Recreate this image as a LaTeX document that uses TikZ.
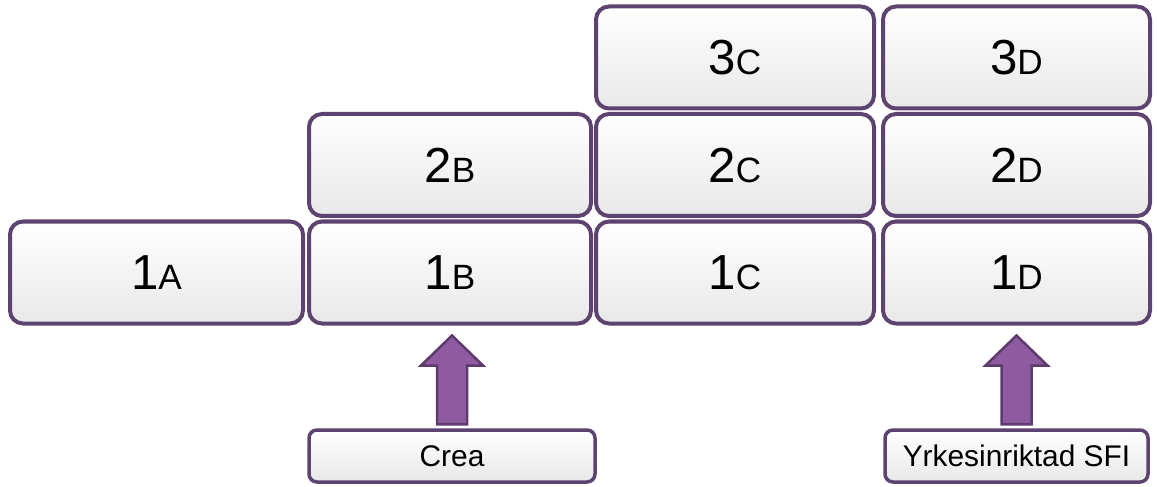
\documentclass[tikz,border=0pt]{standalone}
\usepackage{fontspec}
\setmainfont{Liberation Sans}
\usetikzlibrary{calc}

\definecolor{boxline}{RGB}{93,67,112}
\definecolor{arrowfill}{RGB}{142,91,160}
\definecolor{arrowline}{RGB}{94,58,110}

\begin{document}
\begin{tikzpicture}[
    level/.style={rectangle, draw=boxline, line width=0.08cm, rounded corners=0.26cm,
                  top color=white, middle color=white, bottom color=black!9,
                  minimum height=2.04cm, inner sep=0pt,
                  font=\fontsize{28}{33}\selectfont},
    colA/.style={level, minimum width=5.86cm},
    colB/.style={level, minimum width=5.64cm},
    colC/.style={level, minimum width=5.56cm},
    colD/.style={level, minimum width=5.34cm},
    course/.style={rectangle, draw=boxline, line width=0.07cm, rounded corners=0.16cm,
                   top color=white, middle color=white, bottom color=black!9,
                   minimum height=1.04cm, inner sep=0pt,
                   font=\fontsize{17}{20}\selectfont},
    uparrow/.style={fill=arrowfill, draw=arrowline, line width=0.05cm, line join=miter}
]
\useasboundingbox (0,0) rectangle (23.14,9.72);

\node (oneA) [colA] at (3.13, 4.27) {1{\fontsize{20}{24}\selectfont A}};
\node (oneB) [colB] at (9.00, 4.27) {1{\fontsize{20}{24}\selectfont B}};
\node (oneC) [colC] at (14.70, 4.27) {1{\fontsize{20}{24}\selectfont C}};
\node (oneD) [colD] at (20.33, 4.27) {1{\fontsize{20}{24}\selectfont D}};

\node (twoB) [colB] at (9.00, 6.42) {2{\fontsize{20}{24}\selectfont B}};
\node (twoC) [colC] at (14.70, 6.42) {2{\fontsize{20}{24}\selectfont C}};
\node (twoD) [colD] at (20.33, 6.42) {2{\fontsize{20}{24}\selectfont D}};

\node (threeC) [colC] at (14.70, 8.57) {3{\fontsize{20}{24}\selectfont C}};
\node (threeD) [colD] at (20.33, 8.57) {3{\fontsize{20}{24}\selectfont D}};

\node (crea) [course, minimum width=5.72cm] at (9.04, 0.60) {Crea};
\node (sfi) [course, minimum width=5.26cm] at (20.33, 0.60) {Yrkesinriktad SFI};

% block arrows from the courses up to their levels
\draw [uparrow] let \p1=([yshift=0.08cm]crea.north), \p2=([yshift=-0.2cm]oneB.south) in
    (\x1-0.3cm,\y1) -- (\x1-0.3cm,\y2-0.6cm) -- (\x1-0.62cm,\y2-0.6cm) -- (\x1,\y2)
    -- (\x1+0.62cm,\y2-0.6cm) -- (\x1+0.3cm,\y2-0.6cm) -- (\x1+0.3cm,\y1) -- cycle;
\draw [uparrow] let \p1=([yshift=0.08cm]sfi.north), \p2=([yshift=-0.2cm]oneD.south) in
    (\x1-0.3cm,\y1) -- (\x1-0.3cm,\y2-0.6cm) -- (\x1-0.62cm,\y2-0.6cm) -- (\x1,\y2)
    -- (\x1+0.62cm,\y2-0.6cm) -- (\x1+0.3cm,\y2-0.6cm) -- (\x1+0.3cm,\y1) -- cycle;
\end{tikzpicture}
\end{document}
